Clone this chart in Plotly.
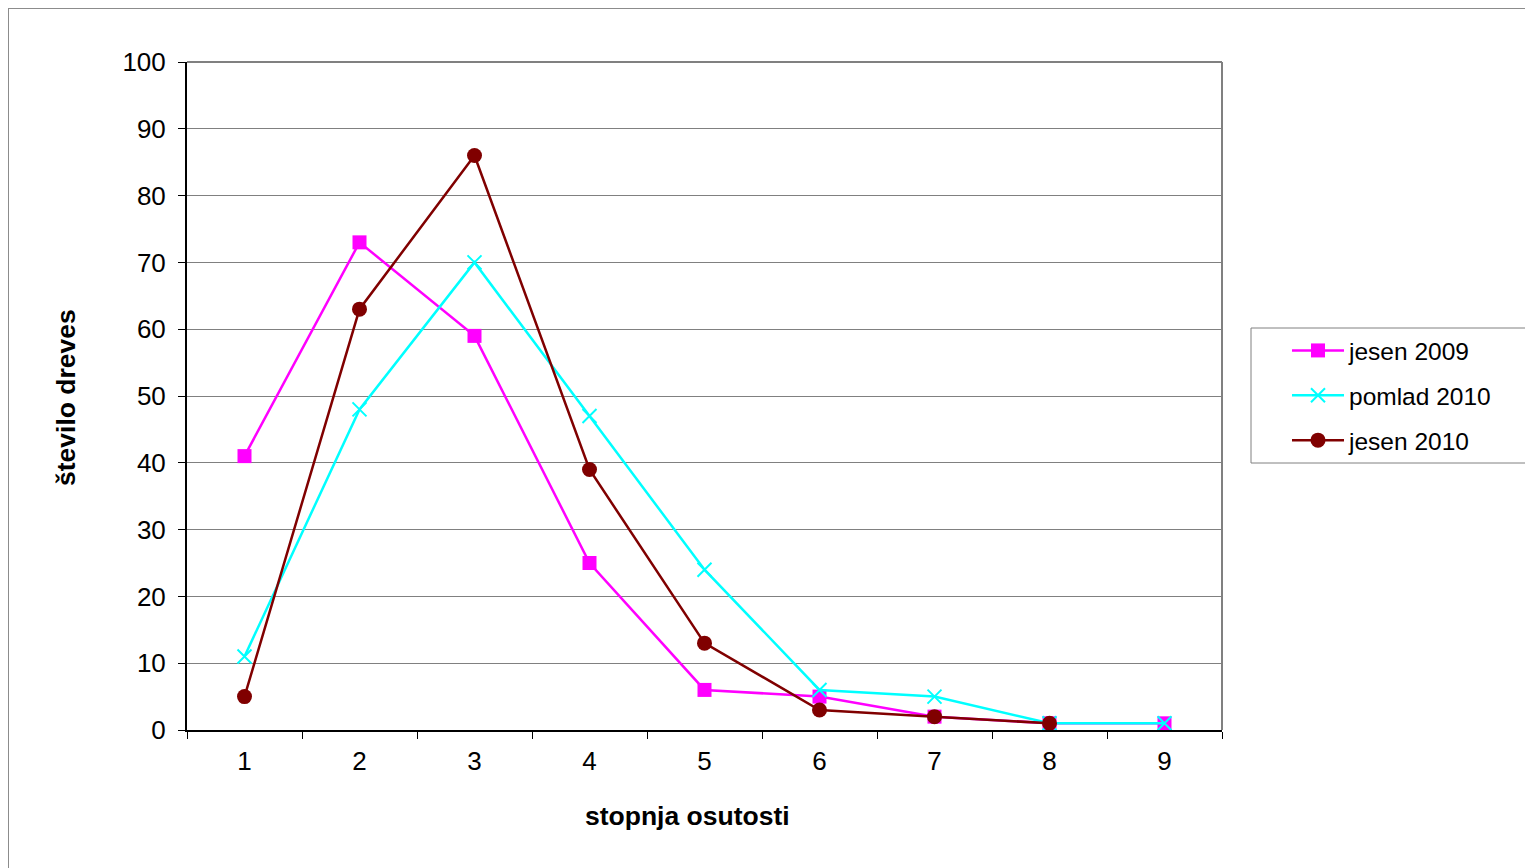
import plotly.graph_objects as go

categories = ["1", "2", "3", "4", "5", "6", "7", "8", "9"]
jesen_2009 = [41, 73, 59, 25, 6, 5, 2, 1, 1]
pomlad_2010 = [11, 48, 70, 47, 24, 6, 5, 1, 1]
jesen_2010 = [5, 63, 86, 39, 13, 3, 2, 1, None]
y_ticks = [0, 10, 20, 30, 40, 50, 60, 70, 80, 90, 100]

FONT = "Liberation Sans, Arial, sans-serif"

fig = go.Figure()
fig.add_trace(go.Scatter(
    x=categories, y=jesen_2009, name="jesen 2009", mode="lines+markers",
    line=dict(color="#FF00FF", width=2.5),
    marker=dict(symbol="square", size=14, color="#FF00FF"),
    legendgroup="a"))
fig.add_trace(go.Scatter(
    x=categories, y=pomlad_2010, name="pomlad 2010", mode="lines+markers",
    line=dict(color="#00FFFF", width=2.5),
    marker=dict(symbol="x-thin", size=14, line=dict(color="#00FFFF", width=2)),
    legendgroup="b"))
fig.add_trace(go.Scatter(
    x=categories, y=jesen_2010, name="jesen 2010", mode="lines+markers",
    line=dict(color="#800000", width=2.5),
    marker=dict(symbol="circle", size=15, color="#800000"),
    legendgroup="c"))

W, H = 1533, 868
L, R, T, B = 179, 1214, 54, 722   # plot area in figure pixels
PW, PH = R - L, B - T


def px(x):
    return (x - L) / PW


def py(y):
    return (B - y) / PH


fig.update_layout(
    width=W, height=H,
    margin=dict(l=L, r=W - R, t=T, b=H - B, pad=0),
    paper_bgcolor="white",
    plot_bgcolor="white",
    font=dict(family=FONT, size=26, color="black"),
    showlegend=True,
    legend=dict(
        x=px(1279), xanchor="left",
        y=py(320), yanchor="top",
        borderwidth=0, bgcolor="rgba(0,0,0,0)",
        font=dict(size=24.5, family=FONT),
        tracegroupgap=10,
        itemwidth=52,
    ),
    xaxis=dict(
        type="category", tickson="boundaries", ticks="outside", ticklen=7,
        range=[-0.5, len(categories) - 0.5], autorange=False,
        tickcolor="black", showline=True, linecolor="black", linewidth=2,
        showgrid=False, tickfont=dict(size=26), ticklabelstandoff=7,
    ),
    yaxis=dict(
        range=[0, 100], tickvals=y_ticks, ticks="outside", ticklen=7,
        tickcolor="black", showline=True, linecolor="black", linewidth=2,
        showgrid=True, gridcolor="#808080", gridwidth=1, zeroline=False,
        tickfont=dict(size=26), ticklabelstandoff=7,
    ),
    annotations=[
        dict(text="<b>stopnja osutosti</b>", xref="paper", yref="paper",
             x=px(679), y=py(808),
             xanchor="center", yanchor="middle", showarrow=False,
             font=dict(size=26.5, family=FONT)),
        dict(text="<b>število dreves</b>", xref="paper", yref="paper",
             x=px(58), y=py(390), textangle=-90,
             xanchor="center", yanchor="middle", showarrow=False,
             font=dict(size=26.5, family=FONT)),
    ],
    shapes=[
        # chart-area frame (left and top edges visible)
        dict(type="line", xref="paper", yref="paper",
             x0=px(0.5), x1=px(0.5), y0=py(H + 20), y1=py(0.5),
             line=dict(color="#8c8c8c", width=1)),
        dict(type="line", xref="paper", yref="paper",
             x0=px(0), x1=px(W + 20), y0=py(0.5), y1=py(0.5),
             line=dict(color="#8c8c8c", width=1)),
        # plot-area border top/right
        dict(type="line", xref="paper", yref="paper", x0=0, x1=1, y0=1, y1=1,
             line=dict(color="#808080", width=2)),
        dict(type="line", xref="paper", yref="paper", x0=1, x1=1, y0=0, y1=1,
             line=dict(color="#808080", width=2)),
        # legend box
        dict(type="rect", xref="paper", yref="paper",
             x0=px(1243), x1=px(W + 20), y0=py(455), y1=py(320),
             line=dict(color="#808080", width=1), fillcolor="rgba(0,0,0,0)"),
    ],
)

fig.write_html("out.html")
